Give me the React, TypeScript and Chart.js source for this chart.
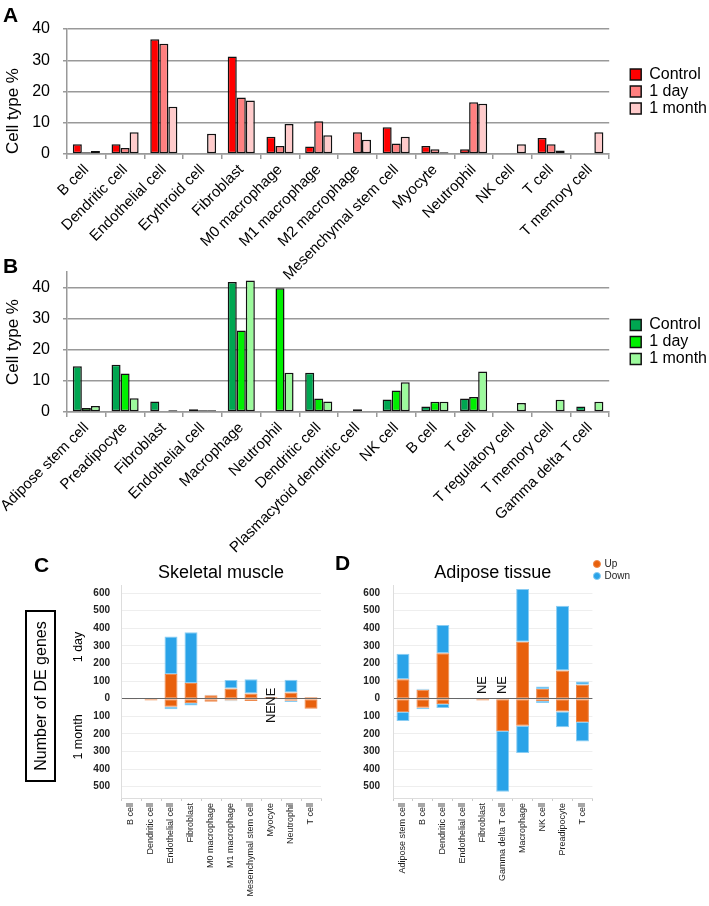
import React, { useEffect, useRef } from "react";
import { Chart, registerables } from "chart.js";

Chart.register(...registerables);

const FONT = "'Liberation Sans', Arial, Helvetica, sans-serif";
Chart.defaults.font.family = FONT;
Chart.defaults.color = "#000";

// ---------- Panel A : skeletal muscle cell types (%) ----------
const catsA = [
  "B cell", "Dendritic cell", "Endothelial cell", "Erythroid cell", "Fibroblast",
  "M0 macrophage", "M1 macrophage", "M2 macrophage", "Mesenchymal stem cell",
  "Myocyte", "Neutrophil", "NK cell", "T cell", "T memory cell",
];
const controlA = [3.1, 3.1, 36.7, 0, 31.2, 5.5, 2.4, 0, 8.6, 2.6, 1.5, 0, 5.1, 0];
const day1A = [0.6, 1.9, 35.3, 0, 18.1, 2.6, 10.5, 7.0, 3.4, 1.5, 16.6, 0, 3.1, 0];
const month1A = [1.0, 7.0, 15.1, 6.5, 17.1, 9.6, 6.0, 4.6, 5.5, 0.6, 16.1, 3.1, 1.1, 7.0];

// ---------- Panel B : adipose tissue cell types (%) ----------
const catsB = [
  "Adipose stem cell", "Preadipocyte", "Fibroblast", "Endothelial cell", "Macrophage",
  "Neutrophil", "Dendritic cell", "Plasmacytoid dendritic cell", "NK cell", "B cell",
  "T cell", "T regulatory cell", "T memory cell", "Gamma delta T cell",
];
const controlB = [14.7, 15.2, 3.4, 0.9, 41.8, 0, 12.6, 0, 4.0, 1.8, 4.3, 0, 0, 1.8];
const day1B = [1.3, 12.4, 0, 0.6, 26.2, 39.8, 4.3, 0.9, 6.9, 3.3, 4.8, 0, 0, 0];
const month1B = [1.9, 4.4, 0.6, 0.6, 42.3, 12.6, 3.4, 0, 9.6, 3.3, 13.0, 2.9, 3.9, 3.3];

const seriesNames = ["Control", "1 day", "1 month"];
const redColors = ["#FF0000", "#FF8080", "#FFCBCB"];
const greenColors = ["#00A651", "#00F000", "#9CFA9C"];
const yMaxA = 40;
const yMaxB = 45;
const yStepAB = 10;

// ---------- Panel C : skeletal muscle DE genes ----------
const catsC = [
  "B cell", "Dendritic cell", "Endothelial cell", "Fibroblast", "M0 macrophage",
  "M1 macrophage", "Mesenchymal stem cell", "Myocyte", "Neutrophil", "T cell",
];
const upDayC = [3, 0, 140, 89, 19, 58, 30, 8, 36, 8];
const downDayC = [0, 0, 213, 288, 4, 49, 81, 0, 72, 0];
const upMonthC = [-2, -10, -45, -25, -17, -10, -13, 0, -11, -57];
const downMonthC = [0, 0, -15, -13, 0, -5, 0, 0, -8, 0];
const neCatsC = ["Myocyte", "Myocyte"];
const neValsC = [12, -87];

// ---------- Panel D : adipose tissue DE genes ----------
const catsD = [
  "Adipose stem cell", "B cell", "Dendritic cell", "Endothelial cell", "Fibroblast",
  "Gamma delta T cell", "Macrophage", "NK cell", "Preadipocyte", "T cell",
];
const upDayD = [111, 51, 258, 0, 0, 0, 323, 55, 160, 79];
const downDayD = [144, 6, 161, 2, 0, 0, 300, 15, 368, 19];
const upMonthD = [-75, -51, -30, 0, -10, -183, -153, -13, -72, -132];
const downMonthD = [-51, -9, -23, -2, 0, -345, -156, -12, -90, -111];
const neCatsD = ["Fibroblast", "Gamma delta T cell"];
const neValsD = [78, 78];

const deNames = ["Up", "Down"];
const deMin = -564;
const deMax = 646;
const deTickValues = [-500, -400, -300, -200, -100, 0, 100, 200, 300, 400, 500, 600];

const ORANGE = "#E8600C";
const ORANGE_EDGE = "#EE8A4E";
const BLUE = "#2AA3E8";
const BLUE_EDGE = "#8ACDF3";

function cellTypeConfig(
  cats: string[],
  series: number[][],
  colors: string[],
  yMax: number,
  padTop: number,
  xHeight: number,
  titleAlign: string
) {
  return {
    type: "bar",
    data: {
      labels: cats,
      datasets: series.map((d, i) => ({
        label: seriesNames[i],
        data: d,
        backgroundColor: colors[i],
        borderColor: "#111",
        borderWidth: 1.5,
        borderSkipped: false,
        categoryPercentage: 0.7,
        barPercentage: 1,
      })),
    },
    options: {
      responsive: false,
      animation: false,
      layout: { padding: { top: padTop, right: -8, left: 0, bottom: 0 } },
      plugins: {
        legend: {
          position: "right",
          fullSize: false,
          align: "center",
          labels: {
            boxWidth: 11,
            boxHeight: 11,
            padding: 1,
            color: "#000",
            font: { size: 16, family: FONT },
          },
        },
        tooltip: { enabled: false },
      },
      scales: {
        x: {
          grid: {
            display: true,
            drawOnChartArea: false,
            drawTicks: true,
            tickLength: 5,
            color: "#999",
            lineWidth: 1.5,
          },
          border: { color: "#999", width: 1.5 },
          ticks: {
            autoSkip: false,
            maxRotation: 45,
            minRotation: 45,
            color: "#000",
            font: { size: 15, family: FONT },
            padding: 2,
          },
          afterFit: (s: any) => {
            s.height = xHeight;
            s.paddingLeft = 0;
            s.paddingRight = 0;
          },
        },
        y: {
          min: 0,
          max: yMax,
          ticks: {
            stepSize: yStepAB,
            includeBounds: false,
            color: "#000",
            font: { size: 16, family: FONT },
            padding: 13,
          },
          grid: { color: "#999", lineWidth: 1.5, tickLength: 4 },
          border: { color: "#999", width: 1.5 },
          title: {
            display: true,
            text: "Cell type %",
            align: titleAlign,
            color: "#000",
            font: { size: 17, family: FONT },
            padding: { top: 3, bottom: 0 },
          },
          afterFit: (s: any) => {
            s.width = 67;
            s.paddingTop = 0;
            s.paddingBottom = 0;
          },
        },
        pad: {
          type: "linear",
          position: "right",
          display: true,
          grid: { display: false },
          ticks: { display: false },
          border: { display: false },
          afterFit: (s: any) => {
            s.width = 20;
            s.paddingTop = 0;
            s.paddingBottom = 0;
          },
        },
      },
    },
  };
}

function nePlugin(cats: string[], vals: number[], size: number) {
  return {
    id: "neLabels",
    afterDatasetsDraw(chart: any) {
      const { ctx } = chart;
      const x = chart.scales.x;
      const y = chart.scales.y;
      const labels = chart.data.labels as string[];
      ctx.save();
      ctx.font = `${size}px ${FONT}`;
      ctx.fillStyle = "#111";
      ctx.textAlign = "center";
      ctx.textBaseline = "middle";
      cats.forEach((c, i) => {
        const px = x.getPixelForValue(labels.indexOf(c));
        const py = y.getPixelForValue(vals[i]);
        ctx.save();
        ctx.translate(px, py);
        ctx.rotate(-Math.PI / 2);
        ctx.fillText("NE", 0, 0);
        ctx.restore();
      });
      ctx.restore();
    },
  };
}

function deConfig(
  cats: string[],
  upDay: number[],
  downDay: number[],
  upMonth: number[],
  downMonth: number[],
  neCats: string[],
  neVals: number[],
  title: string,
  yWidth: number,
  tickPad: number,
  padRight: number,
  showLegend: boolean
) {
  const mk = (label: string, data: number[], color: string, edge: string) => ({
    label,
    data,
    backgroundColor: color,
    borderColor: edge,
    borderWidth: 1,
    borderSkipped: false,
    stack: "de",
    categoryPercentage: 1,
    barPercentage: 0.65,
  });
  return {
    type: "bar",
    data: {
      labels: cats,
      datasets: [
        mk(deNames[0], upDay, ORANGE, ORANGE_EDGE),
        mk(deNames[1], downDay, BLUE, BLUE_EDGE),
        mk(deNames[0], upMonth, ORANGE, ORANGE_EDGE),
        mk(deNames[1], downMonth, BLUE, BLUE_EDGE),
      ],
    },
    options: {
      responsive: false,
      animation: false,
      layout: { padding: { top: 0, left: 0, right: padRight, bottom: 0 } },
      plugins: {
        title: {
          display: true,
          text: title,
          fullSize: false,
          color: "#000",
          font: { size: 18, weight: "normal", family: FONT },
          padding: { top: 5, bottom: 1.4 },
        },
        legend: showLegend
          ? {
              display: true,
              position: "right",
              align: "start",
              fullSize: true,
              labels: {
                usePointStyle: true,
                pointStyle: "circle",
                boxWidth: 5,
                boxHeight: 5,
                padding: 2,
                color: "#222",
                font: { size: 10, family: FONT },
                filter: (item: any) => item.datasetIndex < 2,
              },
            }
          : { display: false },
        tooltip: { enabled: false },
      },
      scales: {
        x: {
          stacked: true,
          grid: { drawOnChartArea: false, color: "#ccc", tickLength: 3 },
          border: { color: "#ddd" },
          ticks: {
            autoSkip: false,
            minRotation: 90,
            maxRotation: 90,
            color: "#222",
            font: { size: 9, family: FONT },
            padding: 2,
          },
          afterFit: (s: any) => {
            s.height = 108;
            s.paddingLeft = 0;
            s.paddingRight = 0;
          },
        },
        y: {
          stacked: true,
          min: deMin,
          max: deMax,
          afterBuildTicks: (s: any) => {
            s.ticks = deTickValues.map((v) => ({ value: v }));
          },
          ticks: {
            callback: (v: any) => String(Math.abs(Number(v))),
            color: "#222",
            font: { size: 10, weight: "bold", family: FONT },
            padding: tickPad,
          },
          grid: {
            drawTicks: false,
            color: (c: any) => (c.tick && c.tick.value === 0 ? "#666" : "#eeeeee"),
            lineWidth: 1,
          },
          border: { color: "#ddd" },
          afterFit: (s: any) => {
            s.width = yWidth;
            s.paddingTop = 0;
            s.paddingBottom = 0;
          },
        },
      },
    },
    plugins: [nePlugin(neCats, neVals, 13)],
  };
}

function ChartCanvas(props: {
  makeConfig: () => any;
  left: number;
  top: number;
  width: number;
  height: number;
}) {
  const ref = useRef<HTMLCanvasElement>(null);
  useEffect(() => {
    const chart = new Chart(ref.current as HTMLCanvasElement, props.makeConfig());
    return () => chart.destroy();
  }, []);
  return (
    <canvas
      ref={ref}
      width={props.width}
      height={props.height}
      style={{
        position: "absolute",
        left: props.left,
        top: props.top,
        width: props.width,
        height: props.height,
      }}
    />
  );
}

function Letter(props: { text: string; left: number; top: number }) {
  return (
    <div
      style={{
        position: "absolute",
        left: props.left,
        top: props.top,
        fontSize: 21,
        fontWeight: "bold",
        lineHeight: 1,
        fontFamily: FONT,
        color: "#000",
      }}
    >
      {props.text}
    </div>
  );
}

function Rotated(props: { text: string; cx: number; cy: number; size: number }) {
  return (
    <div
      style={{
        position: "absolute",
        left: props.cx,
        top: props.cy,
        transform: "translate(-50%, -50%) rotate(-90deg)",
        whiteSpace: "nowrap",
        fontSize: props.size,
        lineHeight: 1,
        fontFamily: FONT,
        color: "#000",
      }}
    >
      {props.text}
    </div>
  );
}

export default function App() {
  return (
    <div
      style={{
        position: "absolute",
        left: 0,
        top: 0,
        width: 709,
        height: 906,
        background: "#fff",
        overflow: "hidden",
        fontFamily: FONT,
      }}
    >
      <ChartCanvas
        left={0}
        top={0}
        width={709}
        height={290}
        makeConfig={() =>
          cellTypeConfig(catsA, [controlA, day1A, month1A], redColors, yMaxA, 29, 136, "start")
        }
      />
      <ChartCanvas
        left={0}
        top={255}
        width={709}
        height={300}
        makeConfig={() =>
          cellTypeConfig(catsB, [controlB, day1B, month1B], greenColors, yMaxB, 17, 143, "center")
        }
      />
      <ChartCanvas
        left={0}
        top={557}
        width={340}
        height={349}
        makeConfig={() =>
          deConfig(catsC, upDayC, downDayC, upMonthC, downMonthC, neCatsC, neValsC,
            "Skeletal muscle", 121, 11, 19, false)
        }
      />
      <ChartCanvas
        left={340}
        top={557}
        width={300}
        height={349}
        makeConfig={() =>
          deConfig(catsD, upDayD, downDayD, upMonthD, downMonthD, neCatsD, neValsD,
            "Adipose tissue", 53, 13, 0, true)
        }
      />
      <Letter text="A" left={3} top={4} />
      <Letter text="B" left={3} top={255} />
      <Letter text="C" left={34} top={554} />
      <Letter text="D" left={335} top={552} />
      <div
        style={{
          position: "absolute",
          left: 25,
          top: 610,
          width: 31,
          height: 172,
          boxSizing: "border-box",
          border: "2px solid #000",
        }}
      />
      <Rotated text="Number of DE genes" cx={41} cy={696} size={16} />
      <Rotated text="1 day" cx={78} cy={647} size={12.5} />
      <Rotated text="1 month" cx={78} cy={737} size={12.5} />
    </div>
  );
}
